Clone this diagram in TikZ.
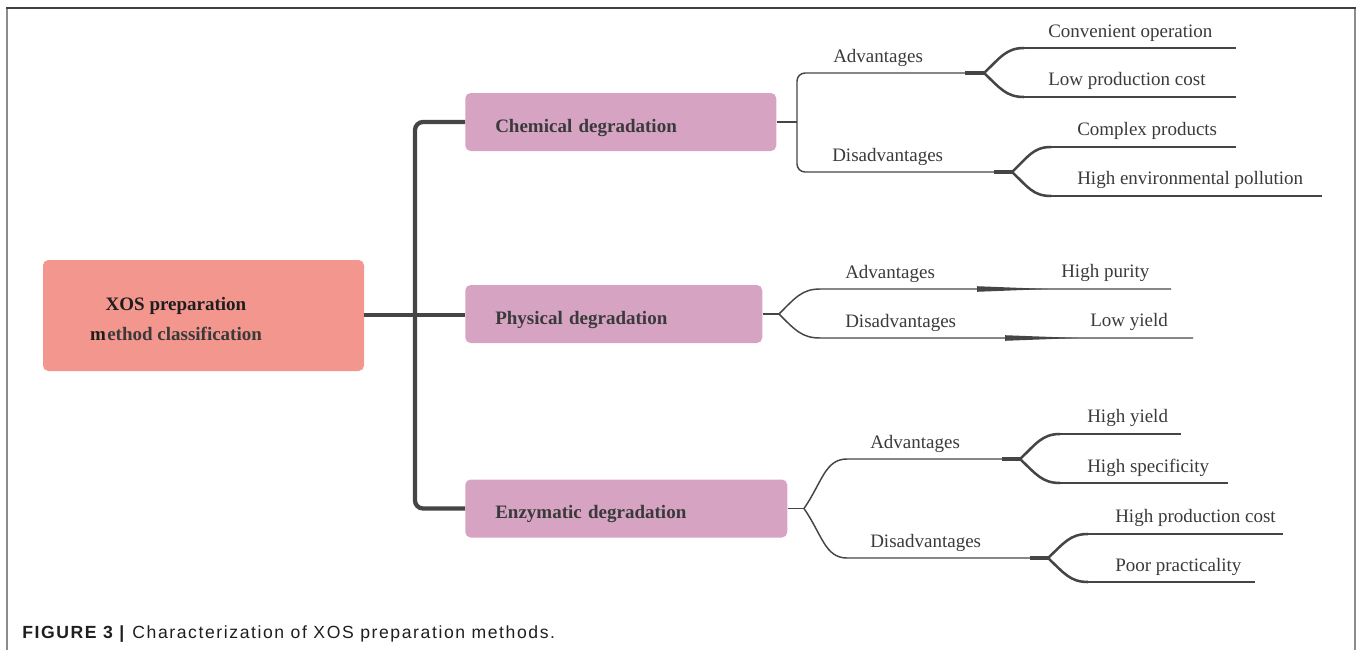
\documentclass[tikz,border=0pt]{standalone}
\usepackage{fontspec}
\setmainfont{Liberation Serif}
\setsansfont{Liberation Sans}
\newfontfamily\capfont[LetterSpace=9]{Liberation Sans}
\usepackage{xcolor}
\usetikzlibrary{positioning,calc}
\definecolor{Salmon}{HTML}{F2968E}
\definecolor{Mauve}{HTML}{D6A3C3}
\definecolor{Ink}{HTML}{1E1E1E}
\definecolor{InkSoft}{HTML}{3A3A3A}
\definecolor{Wire}{HTML}{454545}
\definecolor{Frame}{HTML}{8C8C8C}
\tikzset{
  rootbox/.style={fill=Salmon,rounded corners=4pt,minimum width=240.75pt,minimum height=83.25pt,inner sep=0pt},
  roottext/.style={align=center,font=\fontsize{14.25}{22.5}\selectfont\bfseries,text=Ink,inner sep=0pt},
  catbox/.style={fill=Mauve,rounded corners=4pt,anchor=west,minimum height=43.5pt,inner xsep=22.5pt,inner ysep=0pt,align=left,text height=15pt,text depth=0pt,font=\fontsize{14.25}{17}\selectfont\bfseries,text=InkSoft},
  tag/.style={anchor=base west,inner sep=0pt,font=\fontsize{14.25}{17}\selectfont,text=InkSoft},
  leaf/.style={anchor=base west,inner sep=0pt,font=\fontsize{14.25}{17}\selectfont,text=InkSoft},
  trunk/.style={draw=Wire,line width=3.2pt,rounded corners=6pt},
  branch/.style={draw=Wire,line width=1.1pt},
  stem/.style={draw=Wire,line width=2.6pt},
  arm/.style={draw=Wire,line width=1.9pt},
  wedge/.style={fill=Wire}
}

\begin{document}
\begin{tikzpicture}[x=0.75pt,y=-0.75pt]
  \useasboundingbox (0,0) rectangle (1360,650);
  \draw[Frame,line width=1.5pt] (7,650) -- (7,8);
  \draw[Frame,line width=1.5pt] (1355,650) -- (1355,8);
  \draw[Ink!85,line width=1.3pt] (6,8) -- (1356,8);

  \node[rootbox] (root) at (203.5,315.5) {};
  \node[roottext] (rootlbl) at (176,319) {XOS preparation\\m\kern1pt\textcolor{InkSoft}{ethod classification}};
  \node[catbox,text width=188.25pt] (chem) at (465,122) {Chemical degradation};
  \node[catbox,text width=177.75pt] (phys) at (465,314) {Physical degradation};
  \node[catbox,text width=196.5pt] (enz) at (465,508.5) {Enzymatic degradation};

  \coordinate (hub) at (415,315);
  \draw[trunk] (root.east |- hub) -- (phys.west |- hub);
  \draw[trunk] (chem.west) -- (hub |- chem.west) -- (hub |- enz.west) -- (enz.west);

  % chemical
  \coordinate (chemA) at (984,73);
  \coordinate (chemD) at (1012,172);
  \draw[branch] (chem.east) -- (797,122);
  \draw[branch,rounded corners=6pt] (965,73) -- (797,73) -- (797,172) -- (994,172);
  \draw[stem] (965,73) -- (chemA);
  \draw[stem] (994,172) -- (chemD);
  \node[tag] (chemAt) at (833,62) {Advantages};
  \node[tag] (chemDt) at (832,161) {Disadvantages};
  \node[leaf] (chem1) at (1048,37) {Convenient operation};
  \node[leaf] (chem2) at (1048,85) {Low production cost};
  \node[leaf] (chem3) at (1077,135) {Complex products};
  \node[leaf] (chem4) at (1077,184) {High environmental pollution};
  \draw[arm] (chemA) .. controls +(16,-15) and +(-18,0) .. (1024,48);
  \draw[arm] (chemA) .. controls +(16,15) and +(-18,0) .. (1024,97);
  \draw[arm] (chemD) .. controls +(16,-15) and +(-18,0) .. (1051,147);
  \draw[arm] (chemD) .. controls +(16,15) and +(-18,0) .. (1051,196);
  \draw[branch] (1022,48) -- (1236,48);
  \draw[branch] (1022,97) -- (1236,97);
  \draw[branch] (1049,147) -- (1236,147);
  \draw[branch] (1049,196) -- (1322,196);

  % physical
  \coordinate (physF) at (779,314);
  \draw[branch] (phys.east) -- (physF);
  \draw[branch] (physF) .. controls +(16,-16) and +(-18,0) .. (820,289) -- (1171,289);
  \draw[branch] (physF) .. controls +(16,16) and +(-18,0) .. (820,338) -- (1193,338);
  \fill[wedge] (977,286.2) -- (1048,289) -- (977,291.8) -- cycle;
  \fill[wedge] (1005,335.2) -- (1078,338) -- (1005,340.8) -- cycle;
  \node[tag] (physAt) at (845,278) {Advantages};
  \node[tag] (physDt) at (845,327) {Disadvantages};
  \node[leaf] (phys1) at (1061,277) {High purity};
  \node[leaf] (phys2) at (1090,326) {Low yield};

  % enzymatic
  \coordinate (enzF) at (804,508.5);
  \coordinate (enzA) at (1020,459);
  \coordinate (enzD) at (1048,558);
  \draw[branch] (enz.east) -- (enzF);
  \draw[branch] (enzF) .. controls +(18,-26) and +(-22,0) .. (847,459) -- (1002,459);
  \draw[branch] (enzF) .. controls +(18,26) and +(-22,0) .. (847,558) -- (1030,558);
  \draw[stem] (1002,459) -- (enzA);
  \draw[stem] (1030,558) -- (enzD);
  \node[tag] (enzAt) at (870,448) {Advantages};
  \node[tag] (enzDt) at (870,547) {Disadvantages};
  \node[leaf] (enz1) at (1087,422) {High yield};
  \node[leaf] (enz2) at (1087,472) {High specificity};
  \node[leaf] (enz3) at (1115,522) {High production cost};
  \node[leaf] (enz4) at (1115,571) {Poor practicality};
  \draw[arm] (enzA) .. controls +(16,-15) and +(-18,0) .. (1060,434);
  \draw[arm] (enzA) .. controls +(16,15) and +(-18,0) .. (1060,483);
  \draw[arm] (enzD) .. controls +(16,-15) and +(-18,0) .. (1088,534);
  \draw[arm] (enzD) .. controls +(16,15) and +(-18,0) .. (1088,582);
  \draw[branch] (1058,434) -- (1181,434);
  \draw[branch] (1058,483) -- (1228,483);
  \draw[branch] (1086,534) -- (1283,534);
  \draw[branch] (1086,582) -- (1255,582);

  \node[anchor=base west,inner sep=0pt,font=\capfont\fontsize{13.2}{15}\selectfont,text=Ink] (caption) at (22,638)
    {\textbf{FIGURE 3 |} Characterization of XOS preparation methods.};
\end{tikzpicture}
\end{document}
